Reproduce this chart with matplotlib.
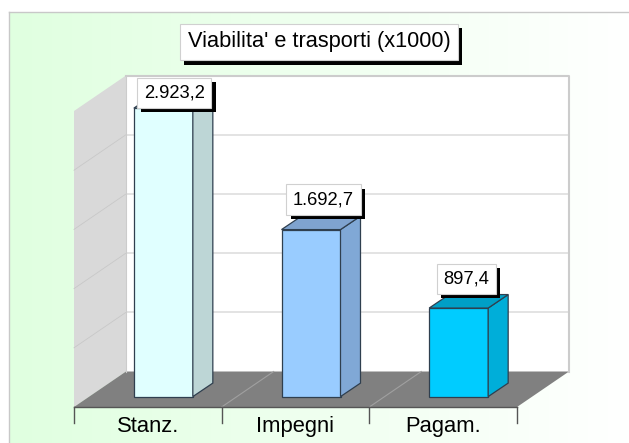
import numpy as np
import matplotlib
matplotlib.use('Agg')
import matplotlib.pyplot as plt
import matplotlib.patheffects as pe
from matplotlib.patches import Polygon

plt.rcParams['font.family'] = ['Liberation Sans', 'DejaVu Sans']

title = "Viabilita' e trasporti (x1000)"
categories = ['Stanz.', 'Impegni', 'Pagam.']
values = [2923.2, 1692.7, 897.4]
value_labels = ['2.923,2', '1.692,7', '897,4']
grid_values = [600, 1200, 1800, 2400]
y_max = 3000

front_colors = ['#E0FFFF', '#99CCFF', '#00CCFF']
side_colors = ['#BDD6D6', '#80A8D6', '#00AED9']
top_colors = ['#A8C4C4', '#7FA3CF', '#009FC6']
label_offsets = [(11, 15.5), (12.5, 30), (8, 29)]

W, H = 629, 443
fig = plt.figure(figsize=(W / 100, H / 100), dpi=100, facecolor='white')

# background panel, green fading to white
bg = fig.add_axes([9 / W, 0, 1 - 9 / W, 1 - 12 / H])
fade = np.linspace(0, 1, 256).reshape(1, -1, 1)
start = np.array([0.878, 1.0, 0.878])
bg.imshow(start + (1 - start) * fade, aspect='auto')
bg.axis('off')
fig.add_artist(plt.Line2D([9 / W, 1], [1 - 12 / H] * 2, color='#C8C8C8', lw=1))
fig.add_artist(plt.Line2D([9 / W] * 2, [0, 1 - 12 / H], color='#C8C8C8', lw=1))

# x: one unit per category, y: chart values, on the front plane of the floor
ax = fig.add_axes([74 / W, (H - 407) / H, 443 / W, 296 / H])
ax.set_xlim(0, 3)
ax.set_ylim(0, y_max)
ax.axis('off')

px_x = 443 / 3
px_y = 296 / y_max
depth_x = 52 / px_x
depth_y = 35.5 / px_y
bar_w = 59 / px_x
bar_dx = 20 / px_x
bar_dy = 13.5 / px_y
bar_ox = 15.5 / px_x
bar_oy = 10.4 / px_y


def poly(pts, fc, ec='none', lw=0.0, z=1):
    ax.add_patch(Polygon(pts, closed=True, fc=fc, ec=ec, lw=lw, zorder=z, clip_on=False))


# walls and floor
poly([(depth_x, depth_y), (3 + depth_x, depth_y), (3 + depth_x, y_max + depth_y), (depth_x, y_max + depth_y)], 'white')
poly([(0, 0), (depth_x, depth_y), (depth_x, y_max + depth_y), (0, y_max)], '#D9D9D9')
poly([(0, 0), (3, 0), (3 + depth_x, depth_y), (depth_x, depth_y)], '#808080')

for g in grid_values:
    ax.plot([depth_x, 3 + depth_x], [g + depth_y] * 2, color='#DEDEDE', lw=1.2, zorder=2, clip_on=False)
    ax.plot([0, depth_x], [g, g + depth_y], color='#C8C8C8', lw=0.6, zorder=2, clip_on=False)

ax.plot([depth_x, 3 + depth_x, 3 + depth_x], [y_max + depth_y, y_max + depth_y, depth_y],
        color='#CCCCCC', lw=1.5, zorder=2, clip_on=False)
ax.plot([depth_x, depth_x], [depth_y, y_max + depth_y], color='#CCCCCC', lw=0.8, zorder=2, clip_on=False)
for i in range(1, 3):
    ax.plot([i, i + depth_x], [0, depth_y], color='#A0A0A0', lw=0.8, zorder=2, clip_on=False)

# category ticks below the floor
ax.plot([0, 3], [0, 0], color='#555555', lw=1, zorder=3, clip_on=False)
for i in range(4):
    ax.plot([i, i], [0, -16 / px_y], color='#555555', lw=1, zorder=3, clip_on=False)
for i, c in enumerate(categories):
    ax.text(i + 0.5, -19.5 / px_y, c, ha='center', va='center', fontsize=15.8, clip_on=False)

# bars
edge = '#2F3F4F'
for i, v in enumerate(values):
    x0 = i + 0.5 + bar_ox - bar_w / 2
    x1 = x0 + bar_w
    y0 = bar_oy
    y1 = bar_oy + v
    poly([(x0, y0), (x1, y0), (x1, y1), (x0, y1)], front_colors[i], edge, 0.9, 4)
    poly([(x1, y0), (x1 + bar_dx, y0 + bar_dy), (x1 + bar_dx, y1 + bar_dy), (x1, y1)], side_colors[i], edge, 0.9, 4)
    poly([(x0, y1), (x1, y1), (x1 + bar_dx, y1 + bar_dy), (x0 + bar_dx, y1 + bar_dy)], top_colors[i], edge, 0.9, 4)

shadow = [pe.withSimplePatchShadow(offset=(3, -3), shadow_rgbFace='black', alpha=1.0)]

for i, v in enumerate(values):
    x0 = i + 0.5 + bar_ox
    t = ax.annotate(value_labels[i], xy=(x0, bar_oy + v), xytext=label_offsets[i], textcoords='offset pixels',
                    ha='center', va='center', fontsize=13.2, zorder=6, annotation_clip=False,
                    bbox=dict(boxstyle='square,pad=0.36', fc='white', ec='#D0D0D0', lw=0.8))
    t.get_bbox_patch().set_path_effects(shadow)

tt = fig.text(319 / W, 1 - 42 / H, title, ha='center', va='center', fontsize=15.7, zorder=6,
              bbox=dict(boxstyle='square,pad=0.36', fc='white', ec='#D0D0D0', lw=0.8))
tt.get_bbox_patch().set_path_effects(shadow)

fig.savefig('out.png', dpi=100)
